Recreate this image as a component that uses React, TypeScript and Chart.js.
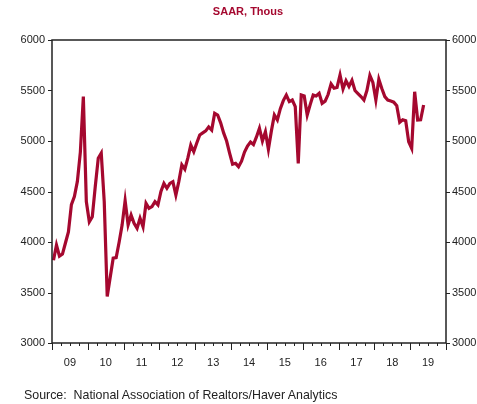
import React, { useEffect, useRef } from 'react';
import { Chart, registerables } from 'chart.js';

Chart.register(...registerables);

// Monthly existing home sales, SAAR thousands, Jan 2009 .. May 2019
const START_YEAR = 2009;
const YEAR_LABELS = ['09', '10', '11', '12', '13', '14', '15', '16', '17', '18', '19'];
const SALES = [
  // 2009
  3820, 3970, 3860, 3880, 3990, 4100, 4370, 4450, 4600, 4890, 5440, 4400,
  // 2010
  4200, 4250, 4550, 4830, 4880, 4400, 3460, 3650, 3840, 3845, 4000, 4170,
  // 2011
  4410, 4170, 4267, 4185, 4136, 4235, 4150, 4383, 4334, 4350, 4400, 4367,
  // 2012
  4500, 4580, 4532, 4580, 4597, 4465, 4600, 4763, 4720, 4830, 4960, 4894,
  // 2013
  4980, 5060, 5080, 5100, 5140, 5109, 5274, 5257, 5180, 5080, 5000, 4880,
  // 2014
  4770, 4779, 4746, 4800, 4890, 4950, 4990, 4965, 5040, 5126, 5000, 5092,
  // 2015
  4918, 5100, 5257, 5208, 5320, 5400, 5455, 5390, 5406, 5340, 4779, 5455,
  // 2016
  5445, 5257, 5360, 5455, 5445, 5472, 5373, 5395, 5460, 5564, 5522, 5530,
  // 2017
  5654, 5515, 5597, 5540, 5600, 5500, 5470, 5440, 5406, 5500, 5650, 5580,
  // 2018
  5406, 5611, 5520, 5439, 5405, 5395, 5385, 5350, 5185, 5210, 5200, 4993,
  // 2019
  4928, 5488, 5208, 5210, 5356,
];
const Y_TICKS = [3000, 3500, 4000, 4500, 5000, 5500, 6000];
const TITLE = 'SAAR, Thous';
const SOURCE = 'Source:  National Association of Realtors/Haver Analytics';

const LINE_COLOR = '#A5082F';
const AXIS_COLOR = '#222222';
const FONT = "'Liberation Sans', Arial, sans-serif";

const framePlugin = {
  id: 'frame',
  afterDraw(chart: any) {
    const { ctx, chartArea, scales } = chart;
    const { left, right, top, bottom } = chartArea;
    ctx.save();
    ctx.strokeStyle = AXIS_COLOR;
    ctx.lineWidth = 1.5;
    ctx.strokeRect(left, top, right - left, bottom - top);
    ctx.lineWidth = 1;
    ctx.beginPath();
    for (const v of Y_TICKS) {
      const y = Math.round(scales.y.getPixelForValue(v)) + 0.5;
      ctx.moveTo(left - 4, y);
      ctx.lineTo(left, y);
      ctx.moveTo(right, y);
      ctx.lineTo(right + 4, y);
    }
    const months = YEAR_LABELS.length * 12;
    for (let m = 0; m <= months; m += 3) {
      const x = Math.round(scales.x.getPixelForValue(m)) + 0.5;
      const len = m % 12 === 0 ? 7 : 3;
      ctx.moveTo(x, bottom);
      ctx.lineTo(x, bottom + len);
    }
    ctx.stroke();
    ctx.restore();
  },
};

export default function App() {
  const canvasRef = useRef<HTMLCanvasElement>(null);

  useEffect(() => {
    const canvas = canvasRef.current;
    if (!canvas) return;
    const points = SALES.map((v, i) => ({ x: i + 0.5, y: v }));
    const months = YEAR_LABELS.length * 12;
    const tickFont = { family: FONT, size: 11 };

    const chart = new Chart(canvas, {
      type: 'line',
      data: {
        datasets: [
          {
            data: points,
            borderColor: LINE_COLOR,
            borderWidth: 3.2,
            pointRadius: 0,
            tension: 0,
            fill: false,
            yAxisID: 'y',
          },
        ],
      },
      options: {
        responsive: false,
        animation: false,
        layout: { padding: { top: 40, left: 0, right: 0, bottom: 0 } },
        plugins: {
          legend: { display: false },
          tooltip: { enabled: false },
          title: { display: false },
        },
        scales: {
          x: {
            type: 'linear',
            min: 0,
            max: months,
            afterBuildTicks: (s: any) => {
              const t = [];
              for (let m = 0; m <= months; m += 3) t.push({ value: m });
              s.ticks = t;
            },
            afterFit: (s: any) => {
              s.height = 61;
            },
            grid: { display: false, drawTicks: false },
            border: { display: false },
            ticks: {
              autoSkip: false,
              maxRotation: 0,
              minRotation: 0,
              padding: 13,
              color: AXIS_COLOR,
              font: tickFont,
              callback: (v: any) => {
                const m = Number(v);
                if (m % 12 === 6) {
                  const idx = (m - 6) / 12;
                  return YEAR_LABELS[idx] ?? '';
                }
                return '';
              },
            },
          },
          y: {
            position: 'left',
            min: 3000,
            max: 6000,
            afterBuildTicks: (s: any) => {
              s.ticks = Y_TICKS.map((v) => ({ value: v }));
            },
            afterFit: (s: any) => {
              s.width = 52;
            },
            grid: { display: false, drawTicks: false },
            border: { display: false },
            ticks: {
              padding: 7,
              color: AXIS_COLOR,
              font: tickFont,
              callback: (v: any) => String(v),
            },
          },
          y2: {
            position: 'right',
            min: 3000,
            max: 6000,
            afterBuildTicks: (s: any) => {
              s.ticks = Y_TICKS.map((v) => ({ value: v }));
            },
            afterFit: (s: any) => {
              s.width = 31;
            },
            grid: { display: false, drawTicks: false },
            border: { display: false },
            ticks: {
              padding: 6,
              color: AXIS_COLOR,
              font: tickFont,
              callback: (v: any) => String(v),
            },
          },
        },
      },
      plugins: [framePlugin],
    });
    return () => chart.destroy();
  }, []);

  return (
    <div style={{ position: 'absolute', left: 0, top: 0, width: 477, height: 404, background: '#fff' }}>
      <canvas ref={canvasRef} width={477} height={404} style={{ display: 'block', width: 477, height: 404 }} />
      <div
        style={{
          position: 'absolute',
          left: 0,
          width: 496,
          top: 5,
          textAlign: 'center',
          fontFamily: FONT,
          fontWeight: 'bold',
          fontSize: 11,
          color: LINE_COLOR,
          whiteSpace: 'pre',
        }}
      >
        {TITLE}
      </div>
      <div
        style={{
          position: 'absolute',
          left: 24,
          top: 388,
          fontFamily: FONT,
          fontSize: 12.4,
          color: AXIS_COLOR,
          whiteSpace: 'pre',
        }}
      >
        {SOURCE}
      </div>
    </div>
  );
}
